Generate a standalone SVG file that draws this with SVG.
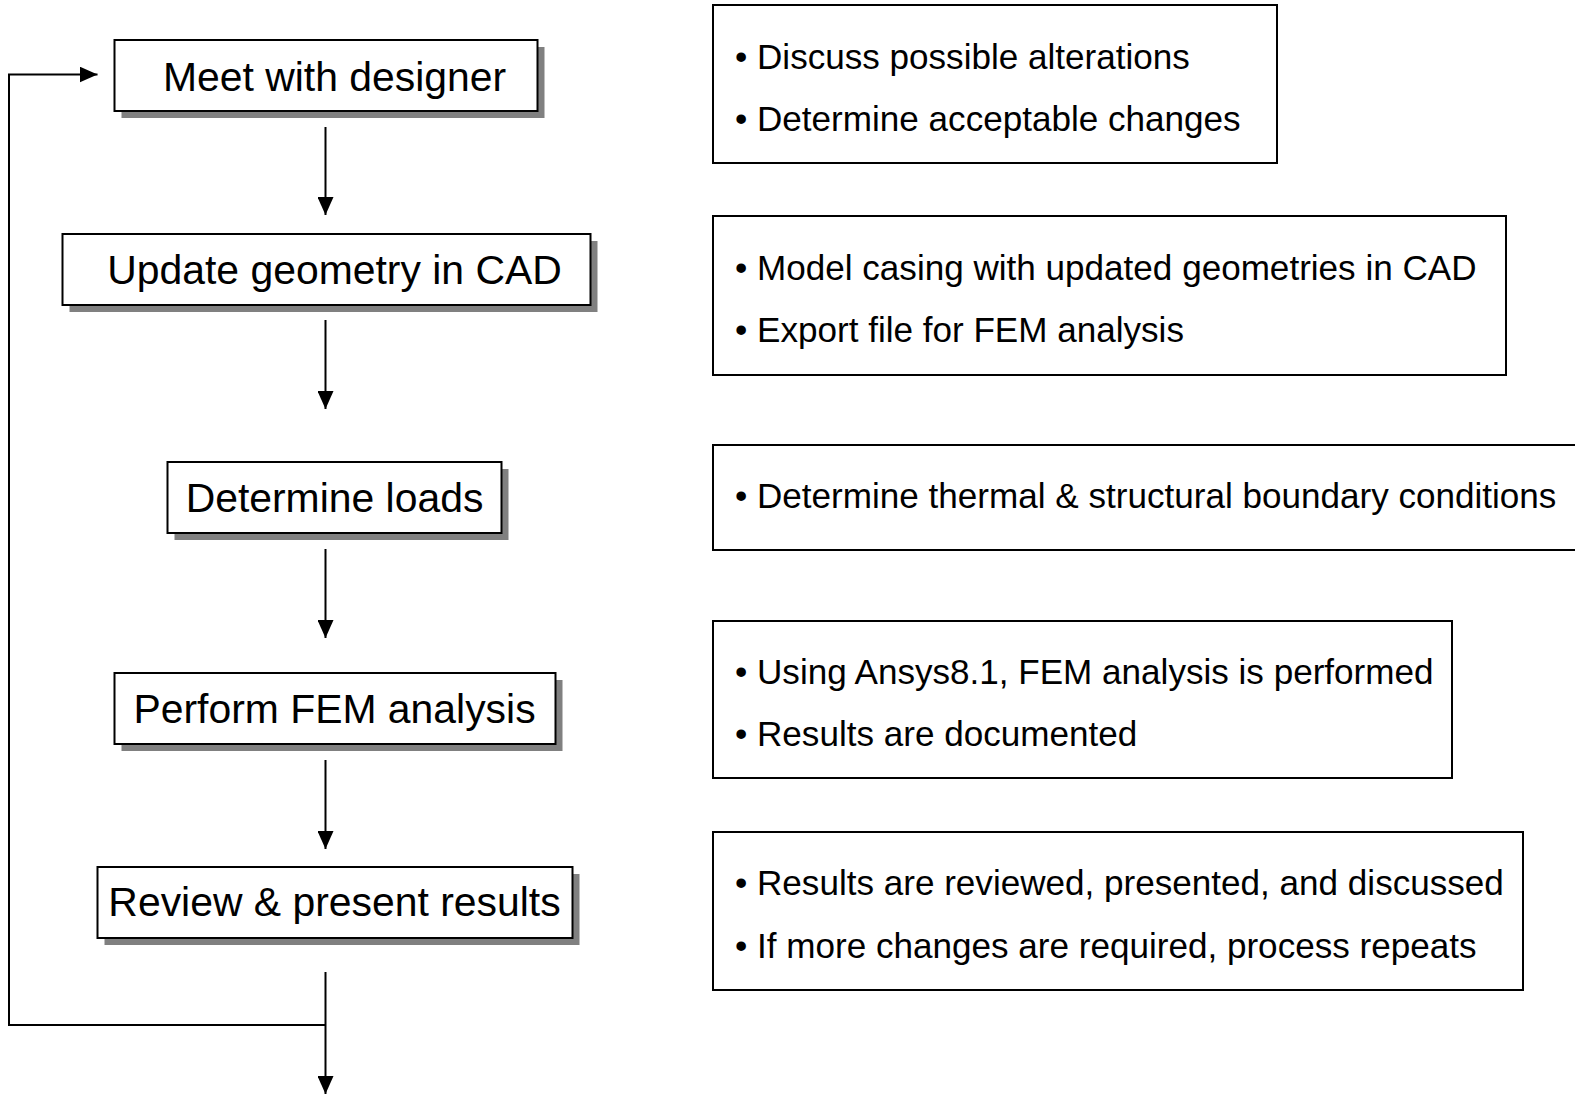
<svg xmlns="http://www.w3.org/2000/svg" width="1575" height="1094" viewBox="0 0 1575 1094">
<style>
.bg{fill:#fff}
.shadow{fill:#808080}
.box{fill:#fff;stroke:#000;stroke-width:2}
.note{fill:#fff;stroke:#000;stroke-width:2}
.lbl{font-family:"Liberation Sans",Arial,sans-serif;font-size:40.9px;fill:#000;text-anchor:middle}
.txt{font-family:"Liberation Sans",Arial,sans-serif;font-size:35.1px;fill:#000}
.conn{fill:none;stroke:#000;stroke-width:2}
</style>
<defs>
<marker id="ah" viewBox="0 0 18 16" refX="18" refY="8" markerWidth="18" markerHeight="16" markerUnits="userSpaceOnUse" orient="auto">
<path d="M0,0 L18,8 L0,16 Z" fill="#000"/>
</marker>
</defs>
<rect class="bg" x="0" y="0" width="1575" height="1094"/>

<g id="connectors">
<line class="conn" x1="325.5" y1="127" x2="325.5" y2="215" marker-end="url(#ah)"/>
<line class="conn" x1="325.5" y1="320" x2="325.5" y2="409" marker-end="url(#ah)"/>
<line class="conn" x1="325.5" y1="549" x2="325.5" y2="638" marker-end="url(#ah)"/>
<line class="conn" x1="325.5" y1="760" x2="325.5" y2="849" marker-end="url(#ah)"/>
<line class="conn" x1="325.5" y1="972" x2="325.5" y2="1094" marker-end="url(#ah)"/>
<polyline class="conn" points="325.5,1025 9,1025 9,74.5 97.5,74.5" marker-end="url(#ah)"/>
</g>

<g id="node-meet">
<rect class="shadow" x="121.5" y="47" width="423" height="71"/>
<rect class="box" x="114.5" y="40" width="423" height="71"/>
<text class="lbl" x="334.5" y="90.5">Meet with designer</text>
</g>
<g id="node-update">
<rect class="shadow" x="69.5" y="241" width="528" height="71"/>
<rect class="box" x="62.5" y="234" width="528" height="71"/>
<text class="lbl" x="334.5" y="284">Update geometry in CAD</text>
</g>
<g id="node-loads">
<rect class="shadow" x="174.5" y="469" width="334" height="71"/>
<rect class="box" x="167.5" y="462" width="334" height="71"/>
<text class="lbl" x="334.5" y="512">Determine loads</text>
</g>
<g id="node-fem">
<rect class="shadow" x="121.5" y="680" width="441" height="71"/>
<rect class="box" x="114.5" y="673" width="441" height="71"/>
<text class="lbl" x="334.5" y="722.5">Perform FEM analysis</text>
</g>
<g id="node-review">
<rect class="shadow" x="104.5" y="874" width="475" height="71"/>
<rect class="box" x="97.5" y="867" width="475" height="71"/>
<text class="lbl" x="334.5" y="916">Review &amp; present results</text>
</g>

<g id="note-meet">
<rect class="note" x="713" y="5" width="564" height="158"/>
<text class="txt" x="735" y="69">• Discuss possible alterations</text>
<text class="txt" x="735" y="131">• Determine acceptable changes</text>
</g>
<g id="note-update">
<rect class="note" x="713" y="216" width="793" height="159"/>
<text class="txt" x="735" y="279.5">• Model casing with updated geometries in CAD</text>
<text class="txt" x="735" y="342">• Export file for FEM analysis</text>
</g>
<g id="note-loads">
<rect class="note" x="713" y="445" width="880" height="105"/>
<text class="txt" x="735" y="507.5">• Determine thermal &amp; structural boundary conditions</text>
</g>
<g id="note-fem">
<rect class="note" x="713" y="621" width="739" height="157"/>
<text class="txt" x="735" y="683.5">• Using Ansys8.1, FEM analysis is performed</text>
<text class="txt" x="735" y="745.5">• Results are documented</text>
</g>
<g id="note-review">
<rect class="note" x="713" y="832" width="810" height="158"/>
<text class="txt" x="735" y="894.5">• Results are reviewed, presented, and discussed</text>
<text class="txt" x="735" y="957.5">• If more changes are required, process repeats</text>
</g>
</svg>
